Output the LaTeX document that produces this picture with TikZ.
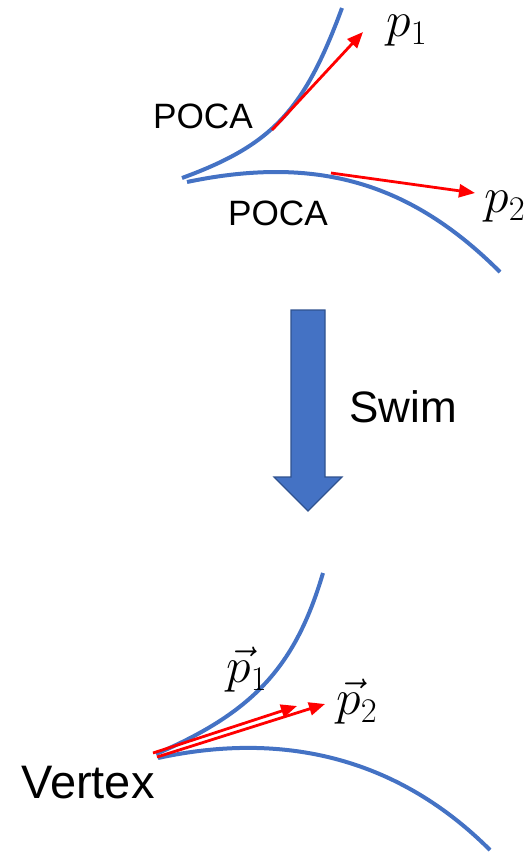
\documentclass[tikz,border=0pt]{standalone}
\usepackage[no-math]{fontspec}
\setmainfont{Liberation Sans}
\usetikzlibrary{arrows.meta}

\definecolor{trackblue}{HTML}{4472C4}
\definecolor{edgeblue}{HTML}{2F528F}

\tikzset{
    track/.style={trackblue, line width=2pt},
    mom/.style={red, line width=1.4pt, -{Triangle[length=8pt,width=6.5pt]}},
    smalltext/.style={inner sep=0pt, font=\fontsize{17.6}{20}\selectfont},
    bigtext/.style={inner sep=0pt, font=\fontsize{23.5}{28}\selectfont},
    mathtext/.style={inner sep=0pt, font=\fontsize{24}{28}\selectfont}
}

\begin{document}
\begin{tikzpicture}[x=0.5pt, y=-0.5pt]
            \useasboundingbox (0, 0) rectangle (529, 852);

            \draw [track] (182, 178) .. controls (272, 145) and (304, 111) .. (342, 8);
            \draw [track] (187, 182) .. controls (316, 155) and (410, 182) .. (500, 272);

            \node [smalltext] (pocaA) at (203, 116) {POCA};
            \node [smalltext] (pocaB) at (278, 213) {POCA};
            \node [mathtext] (p1) at (407, 31) {$p_1$};
            \node [mathtext] (p2) at (505, 207) {$p_2$};

            \coordinate (startA) at (272, 130);
            \coordinate (tipA) at (363, 32);
            \draw [mom] (startA) -- (tipA);

            \coordinate (startB) at (331, 173);
            \coordinate (tipB) at (475, 193);
            \draw [mom] (startB) -- (tipB);

            \draw [edgeblue, fill=trackblue, line width=0.6pt] (291, 310) -- (325, 310) -- (325, 477) -- (342, 477)
                -- (308, 511) -- (274, 477) -- (291, 477) -- cycle;
            \node [bigtext, font=\fontsize{22}{26}\selectfont] (swim) at (403, 407) {Swim};

            \draw [track] (156, 754) .. controls (254, 712) and (295.5, 666) .. (323, 573);
            \draw [track] (158, 758) .. controls (287, 730) and (400, 760) .. (490, 850);

            \node [bigtext] (vertex) at (88, 783) {Vertex};
            \node [mathtext] (vp1) at (247, 670) {$\vec{p}_1$};
            \node [mathtext] (vp2) at (357, 702) {$\vec{p}_2$};

            \coordinate (vtxA) at (153, 753);
            \coordinate (vtxB) at (157, 757);
            \coordinate (tipC) at (297, 706);
            \coordinate (tipD) at (325, 704);
            \draw [mom] (vtxA) -- (tipC);
            \draw [mom] (vtxB) -- (tipD);

        \end{tikzpicture}
\end{document}
